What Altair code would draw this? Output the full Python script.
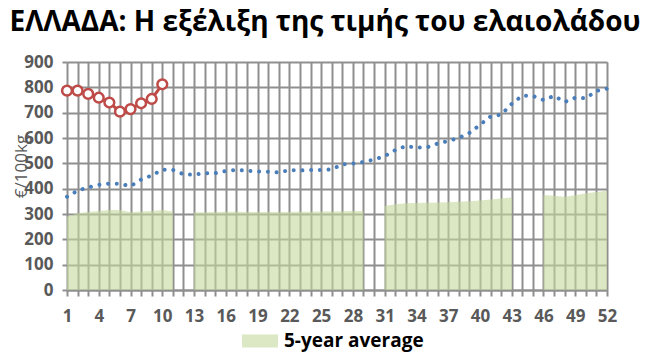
import altair as alt
import pandas as pd

weeks = list(range(1, 53))
prev_year = [368, 392, 405, 415, 420, 419, 410, 436, 452, 475,
             474, 457, 455, 461, 461, 470, 474, 471, 468, 467,
             464, 473, 472, 474, 474, 476, 496, 499, 505, 515,
             528, 552, 568, 562, 563, 578, 588, 600, 620, 652,
             685, 692, 735, 767, 766, 750, 766, 742, 759, 757,
             786, 795]
current_weeks = list(range(1, 11))
current_year = [787, 787, 774, 759, 740, 704, 714, 737, 754, 812]
avg5 = [289, 303, 308, 312, 316, 316, 307, 310, 312, 316,
        310, None, 307, 307, 308, 309, 309, 308, 308, 308,
        308, 308, 309, 309, 310, 310, 311, 312, 312, None,
        332, 338, 342, 343, 344, 345, 346, 348, 350, 353,
        357, 361, 366, None, None, 375, 372, 368, 374, 382,
        387, 392]
legend_label = "5-year average"
title_text = "ΕΛΛΑΔΑ: Η εξέλιξη της τιμής του ελαιολάδου"
y_title = "€/100kg"

# area table with segment ids (gaps break the area)
rows = []
seg = 0
prev_none = True
for w, v in zip(weeks, avg5):
    if v is None:
        prev_none = True
        continue
    if prev_none:
        seg += 1
        prev_none = False
    rows.append({"week": w, "avg": v, "seg": seg, "series": legend_label})
area_df = pd.DataFrame(rows)
blue_df = pd.DataFrame({"week": weeks, "value": prev_year})
red_df = pd.DataFrame({"week": current_weeks, "value": current_year})

FONT = "Open Sans"
GRID = "#8f8f8f"

xscale = alt.Scale(domain=[1, 52], nice=False, zero=False)
yscale = alt.Scale(domain=[0, 900], nice=False)

xaxis = alt.Axis(values=weeks, grid=True, gridColor=GRID, gridWidth=2,
                 labelExpr="(datum.value - 1) % 3 == 0 ? datum.label : ''",
                 labelFont=FONT, labelFontSize=17, labelFontWeight="bold",
                 labelColor="#595959", labelPadding=12, labelFlush=False,
                 labelOverlap=False,
                 tickSize=6, tickColor=GRID, tickWidth=2,
                 domainColor=GRID, domainWidth=2, title=None)
yaxis = alt.Axis(values=list(range(0, 901, 100)), grid=True, gridColor=GRID,
                 gridWidth=2, labelFont=FONT, labelFontSize=17,
                 labelFontWeight="bold", labelColor="#595959", labelPadding=9,
                 labelOverlap=False,
                 tickSize=5, tickColor=GRID, tickWidth=2, domain=False,
                 title=y_title, titleFont=FONT, titleFontSize=17,
                 titleFontWeight="normal", titleColor="#595959",
                 titleX=-46, titleY=104, titleAngle=-90,
                 titleAlign="center", titleBaseline="middle")

X = alt.X("week:Q", scale=xscale, axis=xaxis)

area = alt.Chart(area_df).mark_area(opacity=0.6, interpolate="linear").encode(
    x=X,
    y=alt.Y("avg:Q", scale=yscale, axis=yaxis, stack=None),
    detail="seg:N",
    color=alt.Color("series:N",
                    scale=alt.Scale(domain=[legend_label], range=["#c4d89c"]),
                    legend=alt.Legend(orient="none", legendX=175, legendY=261,
                                      title=None,
                                      symbolType="M-1,-0.36L1,-0.36L1,0.36L-1,0.36Z",
                                      symbolSize=1296, symbolOpacity=0.6,
                                      symbolStrokeWidth=0,
                                      labelFont=FONT, labelFontSize=19,
                                      labelFontWeight="bold", labelColor="black",
                                      labelOffset=6)),
)

blue = alt.Chart(blue_df).mark_line(
    color="#4a7ebb", strokeWidth=4, strokeCap="round", strokeDash=[0.01, 8.7]
).encode(
    x=X,
    y=alt.Y("value:Q", scale=yscale, axis=yaxis),
)

red = alt.Chart(red_df).mark_line(
    color="#be4b48", strokeWidth=3,
    point=alt.OverlayMarkDef(filled=True, fill="white", stroke="#be4b48",
                             strokeWidth=2.5, size=95, opacity=1),
).encode(
    x=X,
    y=alt.Y("value:Q", scale=yscale, axis=yaxis),
)

chart = alt.layer(area, blue, red).properties(
    width=540, height=228,
    title=alt.TitleParams(title_text, font=FONT, fontSize=28, fontWeight="bold",
                          color="black", anchor="middle", dx=-12, offset=16),
    autosize=alt.AutoSizeParams(type="none"),
    padding={"left": 67, "top": 62, "right": 43, "bottom": 62},
).configure_view(fill="#f2f2f2", stroke=None).configure(background="white")

chart.save("out.html", embed_options={"renderer": "svg", "actions": False})
